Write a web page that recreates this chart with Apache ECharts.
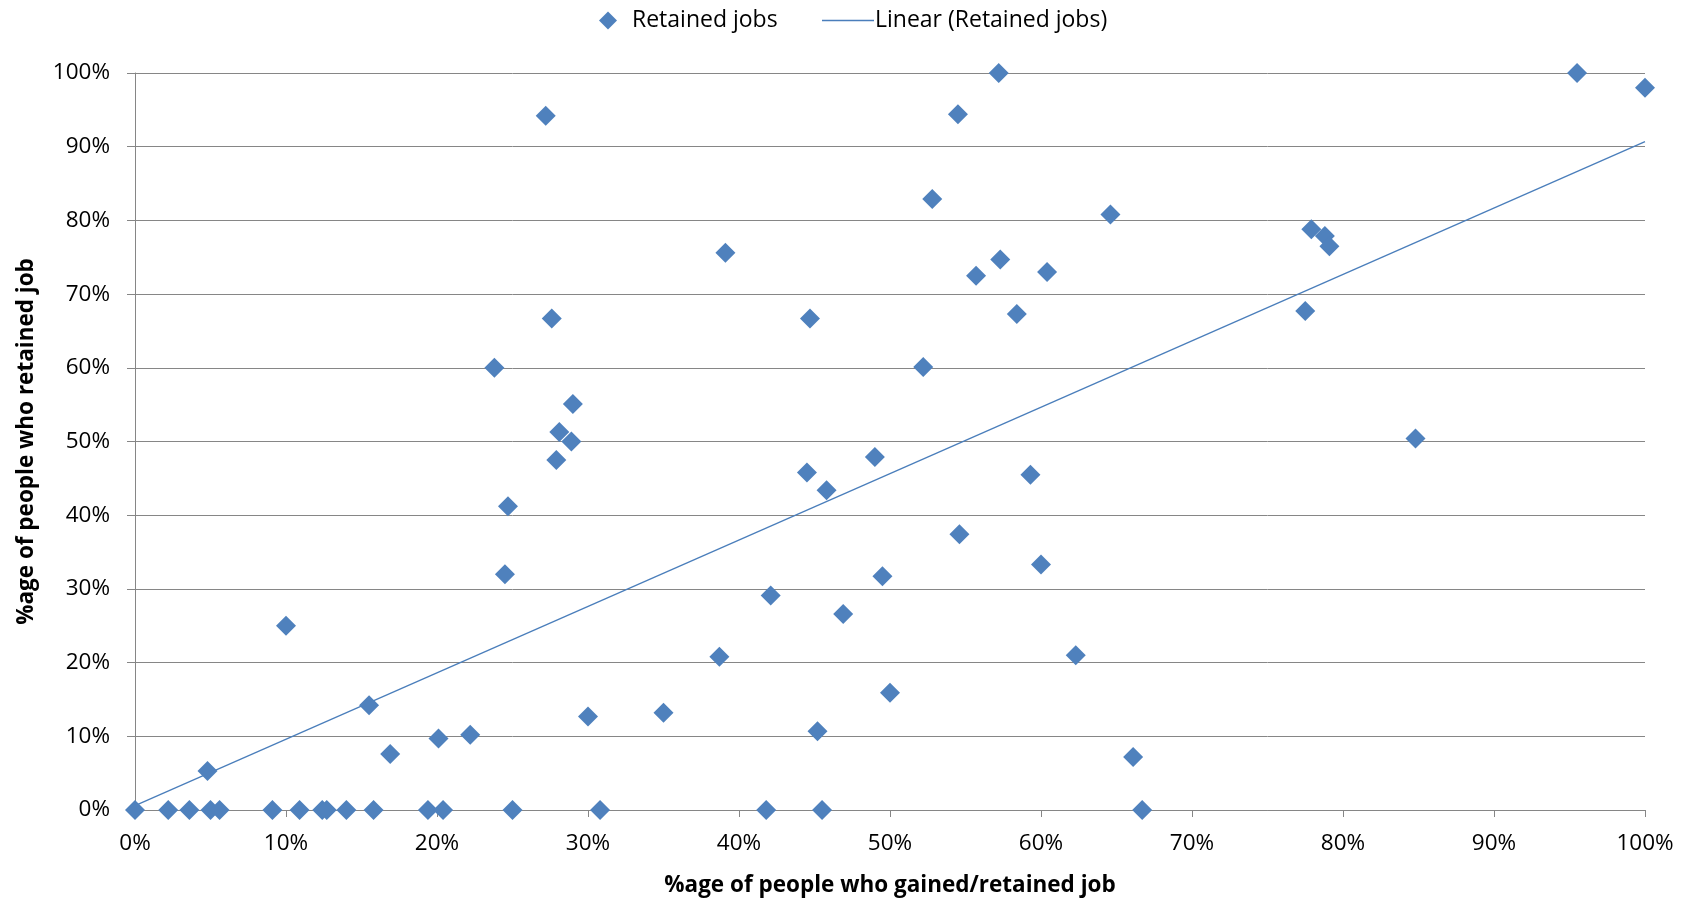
<!DOCTYPE html>
<html>
<head>
<meta charset="utf-8">
<script src="https://cdn.jsdelivr.net/npm/echarts@6/dist/echarts.min.js"></script>
<style>html,body{margin:0;padding:0;background:#fff;}#c{width:1688px;height:899px;}</style>
</head>
<body>
<div id="c"></div>
<script>
// % of people who gained/retained job
const gainedPct = [0,2.2,3.6,5.0,5.6,9.1,10.9,12.4,12.7,14.0,15.8,19.4,20.4,25.0,30.8,41.8,45.5,66.7,
  4.8,10.0,15.5,16.9,20.1,22.2,23.8,24.5,24.7,27.2,27.6,27.9,28.1,28.9,29.0,30.0,35.0,38.7,39.1,42.1,
  44.5,44.7,45.2,45.8,46.9,49.0,49.5,50.0,52.2,52.8,54.5,54.6,55.7,57.2,57.3,58.4,59.3,60.0,60.4,62.3,
  64.6,66.1,77.5,77.9,78.8,79.1,84.8,95.5,100];
// % of people who retained job
const retainedPct = [0,0,0,0,0,0,0,0,0,0,0,0,0,0,0,0,0,0,
  5.3,25.0,14.2,7.6,9.7,10.2,60.0,32.0,41.2,94.2,66.7,47.5,51.3,50.0,55.1,12.7,13.2,20.8,75.6,29.1,
  45.8,66.7,10.7,43.4,26.6,47.9,31.7,15.9,60.1,82.9,94.4,37.4,72.5,100,74.7,67.3,45.5,33.3,73.0,21.0,
  80.8,7.2,67.7,78.8,77.9,76.5,50.4,100,98.0];
// Linear trendline: x endpoints and y values
const trendX = [0, 100];
const trendY = [0.6, 90.7];
const xTicks = ['0%','10%','20%','30%','40%','50%','60%','70%','80%','90%','100%'];

const pts = gainedPct.map((x, i) => [x, retainedPct[i]]);
const trend = trendX.map((x, i) => [x, trendY[i]]);

const chart = echarts.init(document.getElementById('c'));
const sans = '"Open Sans", "Noto Sans", sans-serif';
chart.setOption({
  animation: false,
  backgroundColor: '#ffffff',
  legend: [
    {
      left: 594, top: 4,
      itemWidth: 18, itemHeight: 18,
      textStyle: { fontFamily: sans, fontSize: 23, color: '#000', padding: [0, 0, 0, 10] },
      data: [{ name: 'Retained jobs', icon: 'diamond', itemStyle: { color: '#4F81BD' } }]
    },
    {
      left: 817, top: 4,
      itemWidth: 52, itemHeight: 1.5, itemGap: 0,
      textStyle: { fontFamily: sans, fontSize: 23, color: '#000', padding: [0, 0, 0, -4] },
      data: [{ name: 'Linear (Retained jobs)', icon: 'rect', itemStyle: { color: '#4A7EBB' } }]
    }
  ],
  grid: { left: 135, right: 43, top: 73, bottom: 89, containLabel: false, outerBoundsMode: 'none' },
  xAxis: {
    type: 'value', min: 0, max: 100, interval: 10,
    name: '%age of people who gained/retained job',
    nameLocation: 'middle', nameGap: 64,
    nameTextStyle: { fontFamily: sans, fontSize: 22.5, fontWeight: 'bold', color: '#000' },
    axisLine: { show: true, lineStyle: { color: '#868686', width: 1 } },
    axisTick: { show: true, length: 7, lineStyle: { color: '#868686' } },
    splitLine: { show: false },
    axisLabel: { formatter: v => xTicks[Math.round(v / 10)], fontFamily: sans, fontSize: 22.5, color: '#000', margin: 22 }
  },
  yAxis: {
    type: 'value', min: 0, max: 100, interval: 10,
    name: '%age of people who retained job',
    nameLocation: 'middle', nameGap: 97, nameRotate: 90,
    nameTextStyle: { fontFamily: sans, fontSize: 22.5, fontWeight: 'bold', color: '#000' },
    axisLine: { show: true, lineStyle: { color: '#868686', width: 1 } },
    axisTick: { show: true, length: 8, lineStyle: { color: '#868686' } },
    splitLine: { show: true, lineStyle: { color: '#868686', width: 1 } },
    axisLabel: { formatter: v => v + '%', fontFamily: sans, fontSize: 22.5, color: '#000', margin: 25 }
  },
  series: [
    {
      name: 'Retained jobs', type: 'scatter', data: pts,
      symbol: 'diamond', symbolSize: 20,
      itemStyle: { color: '#4F81BD', opacity: 1 }, z: 3
    },
    {
      name: 'Linear (Retained jobs)', type: 'line', data: trend,
      symbol: 'none', lineStyle: { color: '#4A7EBB', width: 1.3 },
      itemStyle: { color: '#4A7EBB' }, z: 2
    }
  ]
});
</script>
</body>
</html>
